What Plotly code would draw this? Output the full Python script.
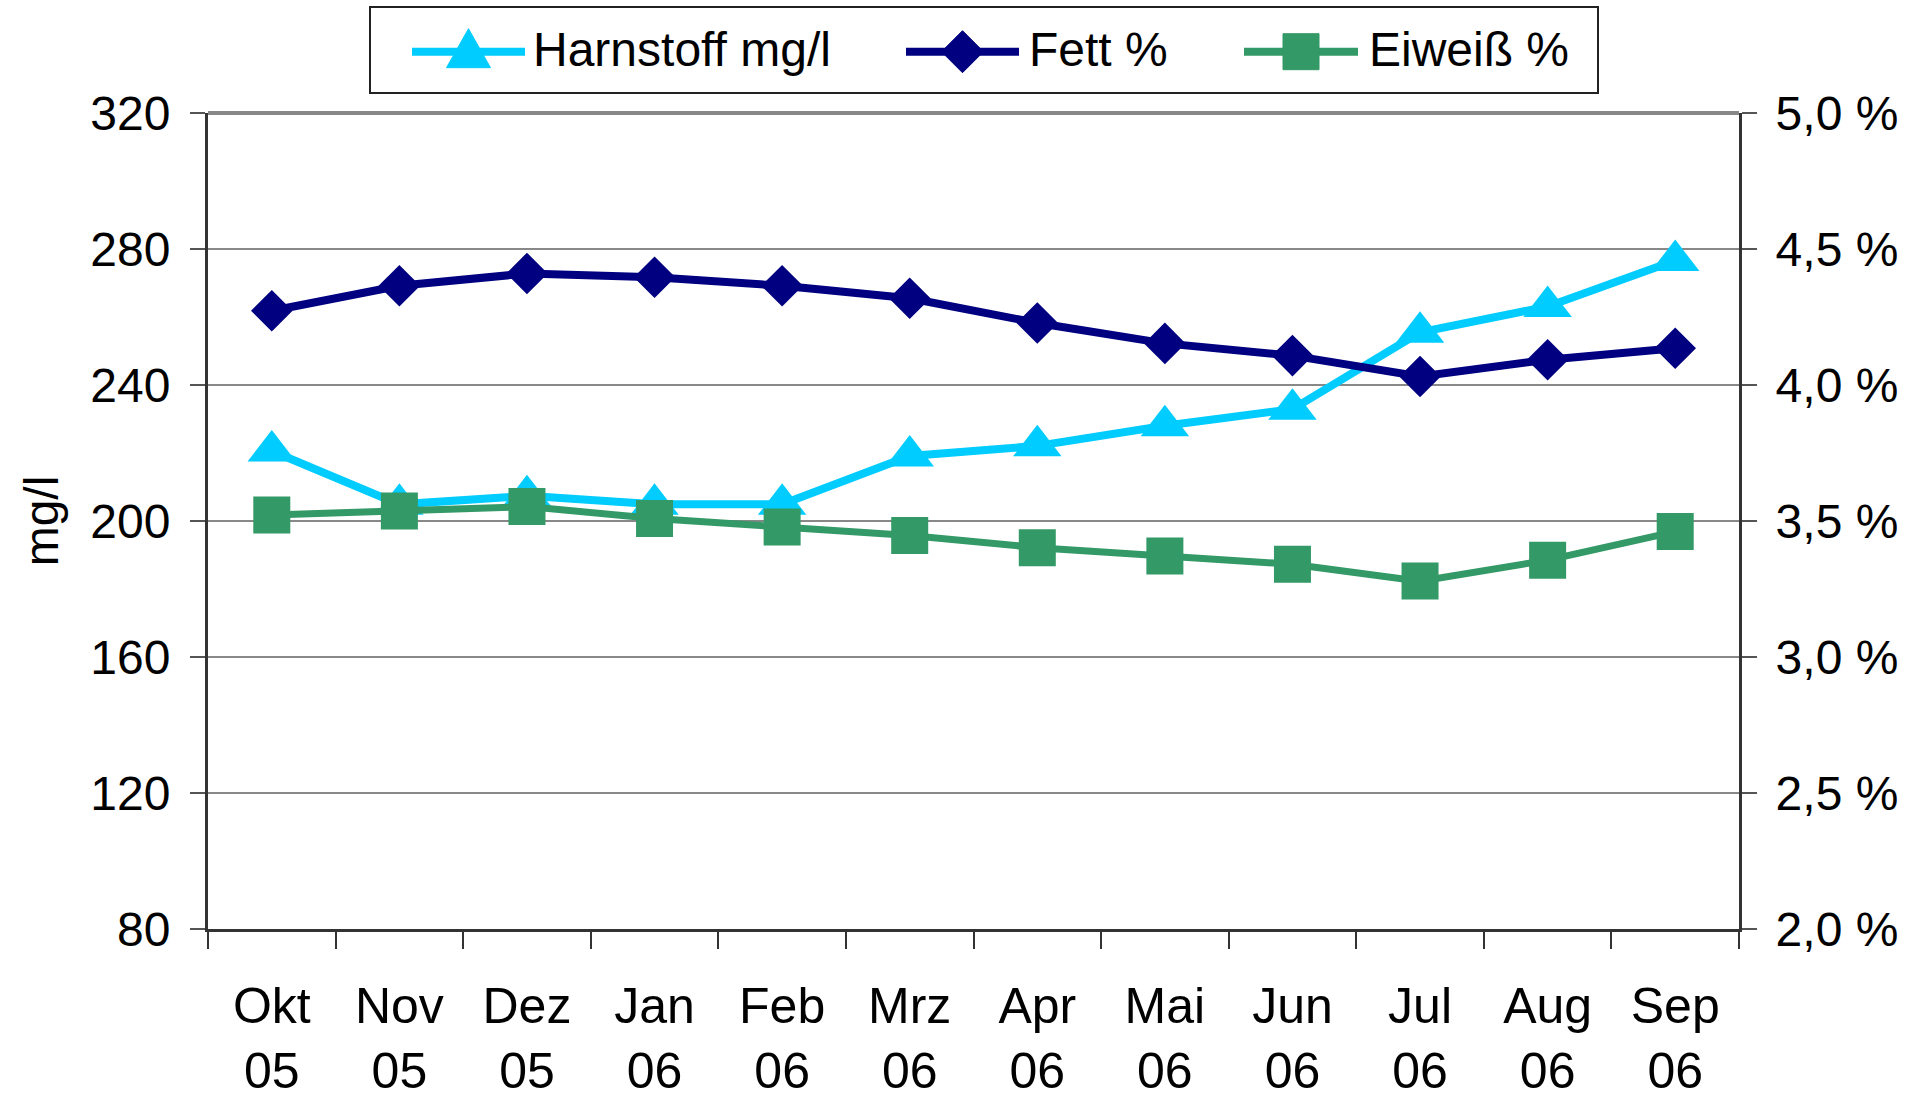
import plotly.graph_objects as go

categories = ["Okt<br>05", "Nov<br>05", "Dez<br>05", "Jan<br>06", "Feb<br>06", "Mrz<br>06",
              "Apr<br>06", "Mai<br>06", "Jun<br>06", "Jul<br>06", "Aug<br>06", "Sep<br>06"]
harnstoff = [220.6, 204.9, 207.4, 204.9, 204.9, 219.1, 222.1, 228.0, 232.9, 255.5, 263.1, 276.6]
fett = [4.273, 4.365, 4.41, 4.396, 4.365, 4.319, 4.228, 4.153, 4.108, 4.031, 4.093, 4.135]
eiweiss = [3.522, 3.537, 3.553, 3.509, 3.478, 3.447, 3.402, 3.371, 3.341, 3.279, 3.356, 3.461]

left_ticks = [80, 120, 160, 200, 240, 280, 320]
right_ticks = [2.0, 2.5, 3.0, 3.5, 4.0, 4.5, 5.0]
right_ticktext = ["2,0 %", "2,5 %", "3,0 %", "3,5 %", "4,0 %", "4,5 %", "5,0 %"]

series_names = ["Harnstoff mg/l", "Fett %", "Eiweiß %"]
series_colors = ["#00CCFF", "#000080", "#339966"]

FONT = "Liberation Sans, Arial, sans-serif"
FS = 48

W, H = 1925, 1099
ML, MR, MT, MB = 208, 186, 113, 170
PW, PH = W - ML - MR, H - MT - MB


def px2x(px):
    return (px - ML) / PW


def px2y(py):
    return (H - MB - py) / PH


fig = go.Figure()
fig.add_trace(go.Scatter(
    x=categories, y=harnstoff, name=series_names[0], mode="lines+markers",
    line=dict(color=series_colors[0], width=8),
    marker=dict(symbol="triangle-up", size=42, color=series_colors[0]),
))
fig.add_trace(go.Scatter(
    x=categories, y=fett, name=series_names[1], mode="lines+markers", yaxis="y2",
    line=dict(color=series_colors[1], width=8),
    marker=dict(symbol="diamond", size=32, color=series_colors[1]),
))
fig.add_trace(go.Scatter(
    x=categories, y=eiweiss, name=series_names[2], mode="lines+markers", yaxis="y2",
    line=dict(color=series_colors[2], width=7),
    marker=dict(symbol="square", size=37, color=series_colors[2]),
))

# ---- hand-drawn legend (Excel style, big markers) ----
shapes = []
annotations = []
shapes.append(dict(type="rect", xref="paper", yref="paper",
                   x0=px2x(370), x1=px2x(1598), y0=px2y(93), y1=px2y(7),
                   line=dict(color="#222222", width=2), fillcolor="white", layer="above"))
legend_line_x = [(412, 525), (906, 1019), (1244, 1358)]
legend_text_x = [531, 1027, 1367]
ly = 51.7
marker_paths = [
    "M -22,-16 L 22,-16 L 0,23 Z",
    "M -21,0 L 0,21 L 21,0 L 0,-21 Z",
    "M -18,-18 L 18,-18 L 18,18 L -18,18 Z",
]
for i in range(3):
    x0, x1 = legend_line_x[i]
    shapes.append(dict(type="line", xref="paper", yref="paper",
                       x0=px2x(x0), x1=px2x(x1), y0=px2y(ly), y1=px2y(ly),
                       line=dict(color=series_colors[i], width=8), layer="above"))
    shapes.append(dict(type="path", xref="paper", yref="paper",
                       xsizemode="pixel", ysizemode="pixel",
                       xanchor=px2x((x0 + x1) / 2), yanchor=px2y(ly),
                       path=marker_paths[i], fillcolor=series_colors[i],
                       line=dict(color=series_colors[i], width=1), layer="above"))
    annotations.append(dict(text=series_names[i], xref="paper", yref="paper",
                            x=px2x(legend_text_x[i]), y=px2y(49),
                            xanchor="left", yanchor="middle", showarrow=False,
                            font=dict(family=FONT, size=FS, color="black")))

shapes.append(dict(type="line", xref="paper", yref="paper", x0=0, x1=1, y0=1, y1=1,
                   line=dict(color="#888888", width=4), layer="below"))

fig.update_layout(
    width=W, height=H,
    margin=dict(l=ML, r=MR, t=MT, b=MB, pad=0, autoexpand=False),
    paper_bgcolor="white", plot_bgcolor="white",
    font=dict(family=FONT, size=FS, color="black"),
    showlegend=False,
    xaxis=dict(
        type="category", range=[-0.5, 11.5], tickson="boundaries",
        ticks="outside", ticklen=17, tickcolor="#333333", tickwidth=1.5,
        showline=True, linecolor="#333333", linewidth=3,
        showgrid=False, tickangle=0, ticklabelstandoff=31, automargin=False,
        tickfont=dict(family=FONT, size=50, color="black"),
    ),
    yaxis=dict(
        range=[80, 320], tickvals=left_ticks,
        ticks="outside", ticklen=15, tickcolor="#555555", tickwidth=1.5,
        showline=True, linecolor="#333333", linewidth=3,
        showgrid=True, gridcolor="#888888", gridwidth=1.5,
        zeroline=False, ticklabelstandoff=10, automargin=False,
        title=dict(text="mg/l", standoff=17, font=dict(family=FONT, size=FS)),
        tickfont=dict(family=FONT, size=FS, color="black"),
    ),
    yaxis2=dict(
        range=[2.0, 5.0], tickvals=right_ticks, ticktext=right_ticktext,
        overlaying="y", side="right",
        ticks="outside", ticklen=15, tickcolor="#555555", tickwidth=1.5,
        showline=True, linecolor="#333333", linewidth=3,
        showgrid=False, zeroline=False, ticklabelstandoff=9, automargin=False,
        tickfont=dict(family=FONT, size=FS, color="black"),
    ),
    shapes=shapes,
    annotations=annotations,
)

fig.write_html(
    "out.html",
    config={"displayModeBar": False},
    post_script="document.body.style.margin='0px';document.body.style.padding='0px';"
                "document.body.style.overflow='hidden';",
)
